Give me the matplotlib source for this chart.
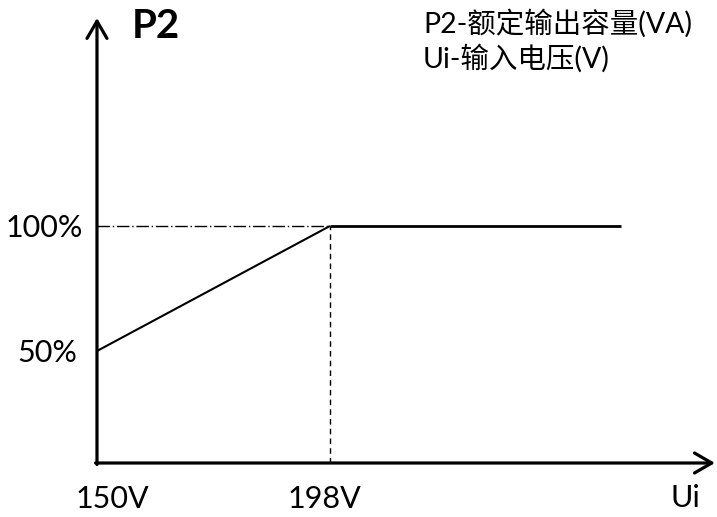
import matplotlib
matplotlib.use("Agg")
import matplotlib.pyplot as plt

# ---- data ----
curve_x = [150, 198, 258]
curve_y = [50, 100, 100]
x_ticks = [150, 198]
x_tick_labels = ["150V", "198V"]
y_ticks = [100, 50]
y_tick_labels = ["100%", "50%"]
y_axis_name = "P2"
x_axis_name = "Ui"
legend_lines = ["P2-额定输出容量(VA)", "Ui-输入电压(V)"]

# ---- layout ----
W, H, DPI = 717, 517, 100
fig = plt.figure(figsize=(W / DPI, H / DPI), dpi=DPI)
ax = fig.add_axes([0, 0, 1, 1])
ax.set_xlim(130.02, 277.73)
ax.set_ylim(-16.4, 190.4)
ax.axis("off")

FONT = ["Lato", "DejaVu Sans"]
CJK = ["Lato", "Noto Sans CJK SC", "DejaVu Sans"]

x0, y0 = 150, 5.2          # axis origin
x_end, y_end = 277.3, 183.2  # arrow tips

arrow = dict(arrowstyle="->,head_length=0.62,head_width=0.36", lw=2.3,
             color="black", mutation_scale=20, shrinkA=0, shrinkB=0)
ax.annotate("", xy=(x_end, y0), xytext=(x0 - 0.3, y0), arrowprops=arrow)
ax.annotate("", xy=(x0, y_end), xytext=(x0, y0 - 0.6), arrowprops=arrow)

# curve
ax.plot(curve_x[:2], curve_y[:2], color="black", lw=1.5, solid_capstyle="butt")
ax.plot(curve_x[1:], curve_y[1:], color="black", lw=2.0, solid_capstyle="butt")

# guide lines
ax.plot([x0, curve_x[1]], [curve_y[1], curve_y[1]], color="black", lw=1.0,
        linestyle=(0, (9, 2, 1, 2)))
ax.plot([curve_x[1], curve_x[1]], [y0, curve_y[1]], color="black", lw=1.0,
        linestyle=(0, (4, 3)))

px = 0.72  # points per pixel
# x tick labels (offsets in pixels)
x_off = [(15.5, -36), (-5.5, -36)]
for xv, lab, (dx, dy) in zip(x_ticks, x_tick_labels, x_off):
    ax.annotate(lab, xy=(xv, y0), xytext=(dx * px, dy * px), textcoords="offset points",
                ha="center", va="center", fontsize=22, family=FONT)

# y tick labels
y_off = [(-14, -2), (-20, -2)]
for yv, lab, (dx, dy) in zip(y_ticks, y_tick_labels, y_off):
    ax.annotate(lab, xy=(x0, yv), xytext=(dx * px, dy * px), textcoords="offset points",
                ha="right", va="center", fontsize=22, family=FONT)

# axis names
fig.text(156 / W, 1 - 27 / H, y_axis_name, ha="center", va="center",
         fontsize=29, fontweight="bold", family=FONT)
fig.text(685 / W, 1 - 498 / H, x_axis_name, ha="center", va="center",
         fontsize=22, family=FONT)

# legend text
fig.text(423 / W, 1 - 23 / H, legend_lines[0], ha="left", va="center",
         fontsize=20.5, family=CJK)
fig.text(423 / W, 1 - 58 / H, legend_lines[1], ha="left", va="center",
         fontsize=20.5, family=CJK)

fig.savefig("out.png", dpi=DPI)
